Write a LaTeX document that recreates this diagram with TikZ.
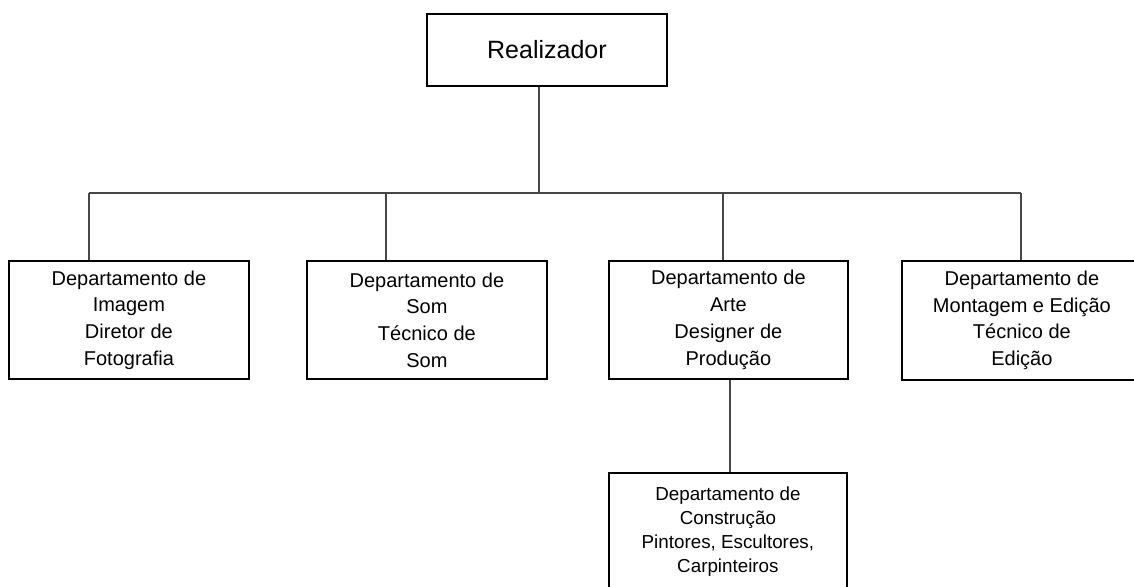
\documentclass[tikz,border=0pt]{standalone}
\usepackage{fontspec}
\setmainfont{Liberation Sans}
\begin{document}
\begin{tikzpicture}[x=1pt,y=-1pt,
  box/.style={draw=black, line width=1.8pt, align=center, inner sep=0pt, anchor=north west,
    font=\fontsize{20}{26.7}\selectfont},
  smallbox/.style={box, font=\fontsize{18.8}{24}\selectfont},
  link/.style={draw=black!72, line width=1.3pt}]
\useasboundingbox (0,0) rectangle (1134,586);
\clip (0,0) rectangle (1134,586);
\fill[white] (0,0) rectangle (1134,586);

\node[box, minimum width=240pt, minimum height=72pt, font=\fontsize{25}{30}\selectfont] (R) at (426,13) {Realizador};
\node[box, minimum width=240pt, minimum height=118pt] (A) at (8,260) {Departamento de\\Imagem\\Diretor de\\Fotografia};
\node[box, minimum width=240pt, minimum height=118pt] (B) at (306,260) {Departamento de\\Som\\Técnico de\\Som};
\node[box, minimum width=239pt, minimum height=118pt] (C) at (608,260) {Departamento de\\Arte\\Designer de\\Produção};
\node[box, minimum width=240pt, minimum height=119pt] (D) at (901,260) {Departamento de\\Montagem e Edição\\Técnico de\\Edição};
\node[smallbox, minimum width=238pt, minimum height=118pt] (E) at (608,472) {Departamento de\\Construção\\Pintores, Escultores,\\Carpinteiros};

\coordinate (j) at (539,193);
\coordinate (ja) at (89,193);
\coordinate (jb) at (386,193);
\coordinate (jc) at (723,193);
\coordinate (jd) at (1021,193);
\coordinate (je) at (730,400);

\draw[link] (j |- R.south) -- (j);
\draw[link] (ja) -- (jd);
\draw[link] (ja) -- (ja |- A.north);
\draw[link] (jb) -- (jb |- B.north);
\draw[link] (jc) -- (jc |- C.north);
\draw[link] (jd) -- (jd |- D.north);
\draw[link] (je |- C.south) -- (je |- E.north);
\end{tikzpicture}
\end{document}
